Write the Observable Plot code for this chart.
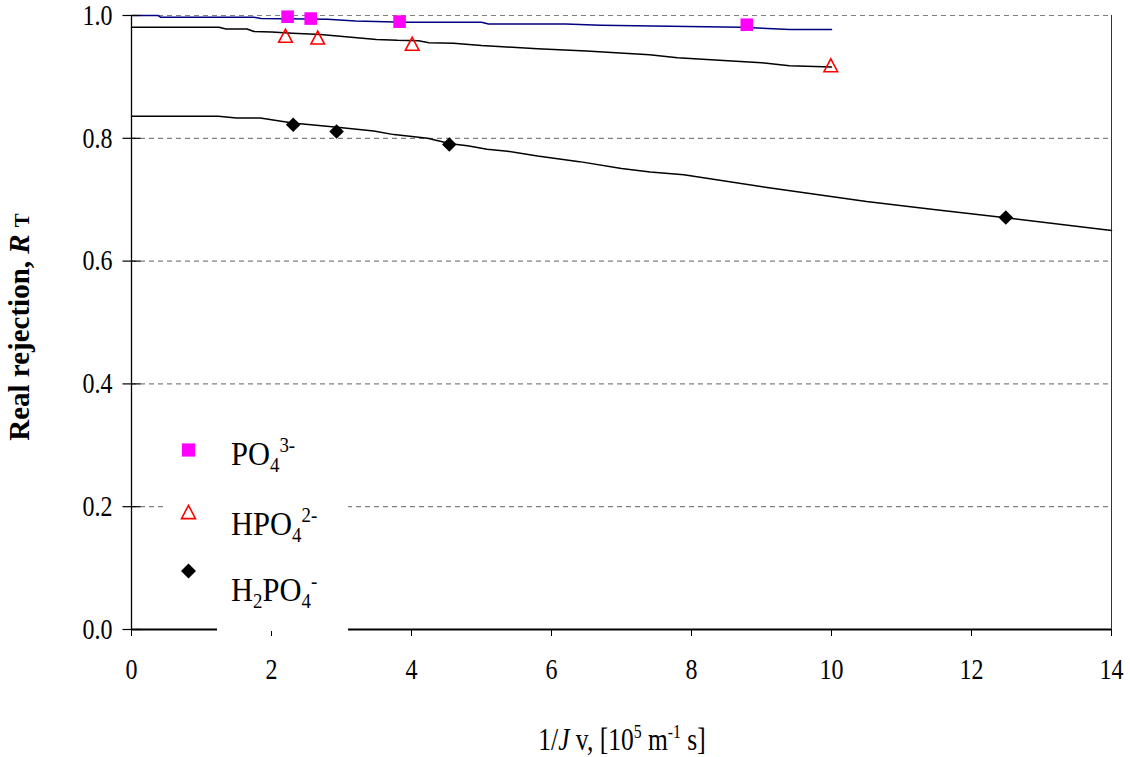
<!DOCTYPE html>
<html><head><meta charset="utf-8">
<script src="https://cdn.jsdelivr.net/npm/d3@7"></script>
<script src="https://cdn.jsdelivr.net/npm/@observablehq/plot@0.6"></script>
<style>
body{margin:0;background:#fff;}
#chart{position:relative;width:1130px;height:757px;}
</style>
</head><body><div id="chart"></div>
<script>
// ---- data ----
const xTicks = [0, 2, 4, 6, 8, 10, 12, 14];
const yTicks = [0, 0.2, 0.4, 0.6, 0.8, 1.0];
const gridValues = [0.2, 0.4, 0.6, 0.8, 1.0];

// fitted lines
const po4LineX = [0, 0.38, 0.42, 1.75, 1.85, 2.8, 3.2, 3.9, 5.0, 5.1, 6.2, 6.7, 8.7, 9.4, 10.0];
const po4LineY = [1.0, 1.0, 0.997, 0.997, 0.995, 0.994, 0.991, 0.989, 0.989, 0.986, 0.986, 0.984, 0.981, 0.977, 0.977];

const hpo4LineX = [0, 1.25, 1.35, 1.65, 1.75, 2.0, 2.3, 2.7, 3.1, 3.5, 3.8, 4.1, 4.25, 4.6, 5.0, 5.3, 5.8, 6.5, 7.4, 7.8, 9.0, 9.4, 10.0];
const hpo4LineY = [0.981, 0.981, 0.978, 0.978, 0.974, 0.973, 0.971, 0.969, 0.965, 0.961, 0.9595, 0.959, 0.9555, 0.955, 0.951, 0.949, 0.946, 0.942, 0.936, 0.931, 0.923, 0.918, 0.916];

const h2po4LineX = [0, 1.24, 1.5, 1.84, 2.3, 2.94, 3.46, 3.75, 4.23, 4.56, 4.8, 5.08, 5.37, 5.8, 6.4, 7.0, 7.41, 7.89, 9.08, 10.5, 11.46, 12.49, 14.0];
const h2po4LineY = [0.836, 0.836, 0.833, 0.833, 0.825, 0.818, 0.812, 0.806, 0.800, 0.791, 0.788, 0.782, 0.779, 0.771, 0.762, 0.751, 0.745, 0.7405, 0.720, 0.697, 0.684, 0.6705, 0.650];

// measured points
const po4PtX = [2.23, 2.56, 3.83, 8.79];
const po4PtY = [0.998, 0.995, 0.990, 0.985];
const hpo4PtX = [2.2, 2.66, 4.01, 9.99];
const hpo4PtY = [0.967, 0.964, 0.954, 0.919];
const h2po4PtX = [2.31, 2.93, 4.54, 12.49];
const h2po4PtY = [0.822, 0.811, 0.790, 0.671];

const seriesNames = ["PO4", "HPO4", "H2PO4"];

// ---- helpers ----
const zip = (xs, ys) => xs.map((x, i) => ({x, y: ys[i]}));
const squareSym = {draw(c, s){ const r = Math.sqrt(s / Math.PI); c.rect(-r, -r, 2*r, 2*r); }};
const triSym = {draw(c, s){ const r = Math.sqrt(s / Math.PI); const h = r * 0.95; c.moveTo(0, -h); c.lineTo(r, h); c.lineTo(-r, h); c.closePath(); }};
const diaSym = {draw(c, s){ const r = Math.sqrt(s / Math.PI); c.moveTo(0, -r); c.lineTo(r, 0); c.lineTo(0, r); c.lineTo(-r, 0); c.closePath(); }};
const crossTick = {draw(c, s){ const r = Math.sqrt(s / Math.PI); c.moveTo(-r, 0); c.lineTo(r, 0); }};

const FONT = "'Liberation Serif', 'Times New Roman', serif";
const STRETCH = 1.2;

const plot = Plot.plot({
  width: 1130, height: 757,
  marginLeft: 131, marginRight: 19, marginTop: 15, marginBottom: 128,
  style: {fontFamily: FONT, fontSize: "24px", color: "black", background: "white", overflow: "visible"},
  x: {domain: [0, 14], label: null},
  y: {domain: [0, 1], label: null},
  marks: [
    Plot.gridY(gridValues, {stroke: "#808080", strokeOpacity: 1, strokeWidth: 1.2, strokeDasharray: "5,4"}),
    Plot.ruleX([14], {stroke: "#333", strokeWidth: 1}),
    Plot.line(zip(h2po4LineX, h2po4LineY), {x: "x", y: "y", stroke: "black", strokeWidth: 1.5}),
    Plot.line(zip(hpo4LineX, hpo4LineY), {x: "x", y: "y", stroke: "black", strokeWidth: 1.5}),
    Plot.line(zip(po4LineX, po4LineY), {x: "x", y: "y", stroke: "#000080", strokeWidth: 1.5}),
    Plot.dot(zip(po4PtX, po4PtY), {x: "x", y: "y", symbol: squareSym, r: 6.3, fill: "#FF00FF", stroke: "none"}),
    Plot.dot(zip(hpo4PtX, hpo4PtY), {x: "x", y: "y", symbol: triSym, r: 6.8, fill: "none", stroke: "#FF0000", strokeWidth: 1.6}),
    Plot.dot(zip(h2po4PtX, h2po4PtY), {x: "x", y: "y", symbol: diaSym, r: 7.3, fill: "black", stroke: "none"}),
    Plot.ruleX([0], {stroke: "black", strokeWidth: 1.3}),
    Plot.ruleY([0], {stroke: "black", strokeWidth: 2.2}),
    Plot.dot(yTicks, {x: () => 0, y: d => d, symbol: crossTick, r: 9, stroke: "black", strokeWidth: 1.2}),
    Plot.axisX({ticks: xTicks, tickSize: 7, tickPadding: 22, label: null, fontSize: 24, fontFamily: FONT}),
    Plot.axisY({ticks: yTicks, tickSize: 0, tickPadding: 19, label: null, fontSize: 24, fontFamily: FONT, tickFormat: d3.format(".1f")})
  ]
});
document.getElementById("chart").appendChild(plot);

const svg = d3.select(plot);

// vertically stretch the tick labels like the reference's text, and force the serif face
svg.selectAll('g[aria-label="x-axis tick label"], g[aria-label="y-axis tick label"]')
  .style("font-family", FONT);
svg.selectAll('g[aria-label="x-axis tick label"] text, g[aria-label="y-axis tick label"] text').each(function() {
  const tr = this.getAttribute("transform") || "";
  this.setAttribute("transform", tr + ` scale(1,${STRETCH})`);
  this.style.fontFamily = FONT;
});

function rich(sel, parts, base) {
  let shift = 0;
  parts.forEach(p => {
    const t = sel.append("tspan").text(p.t);
    let target = 0, fs = base;
    if (p.sup) { target = -0.38 * base; fs = base * 0.62; }
    if (p.sub) { target = 0.2 * base; fs = base * 0.62; }
    if (p.small) { fs = base * 0.72; }
    t.style("font-size", fs + "px");
    if (target !== shift) { t.attr("dy", target - shift); shift = target; }
    if (p.i) t.style("font-style", "italic");
  });
}
function stretchedText(parent, x, y, sy, anchor, size, weight) {
  const g = parent.append("g").attr("transform", `translate(${x},${y}) scale(1,${sy})`);
  return g.append("text").attr("x", 0).attr("y", 0)
    .style("text-anchor", anchor).style("font-family", FONT)
    .style("font-size", size + "px").style("font-weight", weight || "normal").attr("fill", "black");
}

// x title
const xt = stretchedText(svg, 622, 750, STRETCH, "middle", 25.5);
rich(xt, [{t: "1/"}, {t: "J", i: true}, {t: " v, [10"}, {t: "5", sup: true}, {t: " m"}, {t: "-1", sup: true}, {t: " s]"}], 25.5);

// y title
const yt = svg.append("text").attr("transform", "translate(29,327) rotate(-90)")
  .style("text-anchor", "middle").style("font-family", FONT).style("font-size", "29px")
  .style("font-weight", "bold").attr("fill", "black");
rich(yt, [{t: "Real rejection, "}, {t: "R", i: true}, {t: " "}, {t: "T", small: true}], 29);

// legend
const lg = svg.append("g");
lg.append("rect").attr("x", 167).attr("y", 425).attr("width", 181).attr("height", 196).attr("fill", "white");
lg.append("rect").attr("x", 217).attr("y", 615).attr("width", 131).attr("height", 16).attr("fill", "white");
const legendItems = [
  {name: seriesNames[0], sym: squareSym, r: 6.6, fill: "#FF00FF", stroke: "none", my: 450, ty: 465,
   parts: [{t: "PO"}, {t: "4", sub: true}, {t: "3-", sup: true}]},
  {name: seriesNames[1], sym: triSym, r: 7, fill: "none", stroke: "#FF0000", my: 512, ty: 535,
   parts: [{t: "HPO"}, {t: "4", sub: true}, {t: "2-", sup: true}]},
  {name: seriesNames[2], sym: diaSym, r: 7.5, fill: "black", stroke: "none", my: 571, ty: 601,
   parts: [{t: "H"}, {t: "2", sub: true}, {t: "PO"}, {t: "4", sub: true}, {t: "-", sup: true}]}
];
legendItems.forEach(it => {
  lg.append("path").attr("transform", `translate(188.5,${it.my})`)
    .attr("d", d3.symbol().type(it.sym).size(Math.PI * it.r * it.r)())
    .attr("fill", it.fill).attr("stroke", it.stroke).attr("stroke-width", 1.6);
  const t = stretchedText(lg, 231, it.ty, 1.1, "start", 30.5);
  rich(t, it.parts, 30.5);
});
</script>
</body></html>
